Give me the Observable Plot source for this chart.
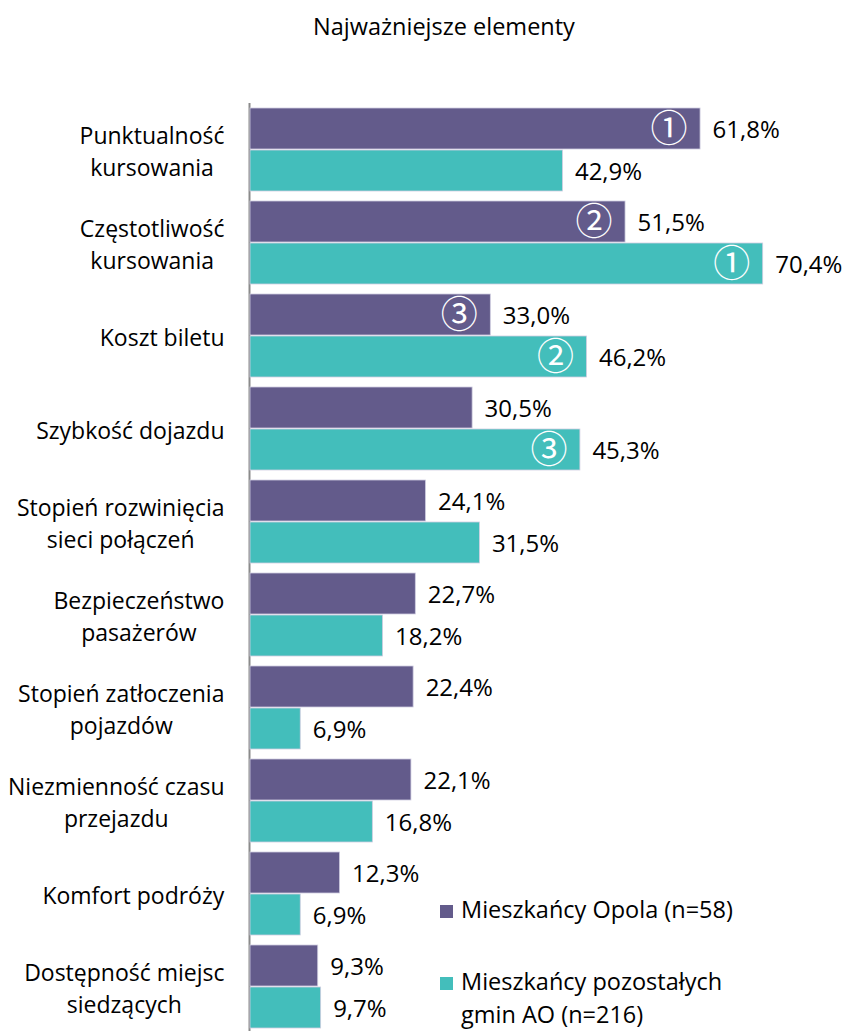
<!DOCTYPE html>
<html lang="pl">
<head>
<meta charset="utf-8">
<script src="https://cdn.jsdelivr.net/npm/d3@7"></script>
<script src="https://cdn.jsdelivr.net/npm/@observablehq/plot@0.6"></script>
<style>
  body { margin: 0; background: #fff; font-family: "Open Sans", sans-serif; color: #000; }
  #wrap { position: relative; width: 846px; height: 1031px; overflow: hidden; }
  #title { height: 55px; line-height: 52px; text-align: center; padding-left: 42px; font-size: 23.5px; }
  #legend { position: absolute; left: 440px; top: 893px; font-size: 23.5px; line-height: 33px; }
  .item { display: flex; align-items: flex-start; }
  .sw { width: 13px; height: 13px; margin-top: 12px; margin-right: 8px; flex: none; }
</style>
</head>
<body>
<div id="wrap">
  <div id="title">Najważniejsze elementy</div>
  <div id="chart"></div>
  <div id="legend"></div>
</div>
<script>
// Categories (top to bottom), with line breaks for the axis labels
const categories = [
  "Punktualność\nkursowania",
  "Częstotliwość\nkursowania",
  "Koszt biletu",
  "Szybkość dojazdu",
  "Stopień rozwinięcia\nsieci połączeń",
  "Bezpieczeństwo\npasażerów",
  "Stopień zatłoczenia\npojazdów",
  "Niezmienność czasu\nprzejazdu",
  "Komfort podróży",
  "Dostępność miejsc\nsiedzących"
];
const series = ["Mieszkańcy Opola (n=58)", "Mieszkańcy pozostałych\ngmin AO (n=216)"];
const colors = ["#635B8B", "#43BEBB"];

// Share of respondents (%)
const opole = [61.8, 51.5, 33.0, 30.5, 24.1, 22.7, 22.4, 22.1, 12.3, 9.3];
const others = [42.9, 70.4, 46.2, 45.3, 31.5, 18.2, 6.9, 16.8, 6.9, 9.7];

// Top-3 ranks within each group (0 = not ranked)
const rankOpole = [1, 2, 3, 0, 0, 0, 0, 0, 0, 0];
const rankOthers = [0, 1, 2, 3, 0, 0, 0, 0, 0, 0];

const circled = ["", "\u2460", "\u2461", "\u2462"];
const fmt = v => v.toFixed(1).replace(".", ",") + "%";

const rows = [];
categories.forEach((c, i) => {
  rows.push({category: c, series: series[0], value: opole[i], rank: rankOpole[i]});
  rows.push({category: c, series: series[1], value: others[i], rank: rankOthers[i]});
});

const chart = Plot.plot({
  width: 846,
  height: 978,
  marginLeft: 250,
  marginRight: 13.4,
  marginTop: 48,
  marginBottom: 0,
  style: {fontFamily: "'Open Sans', sans-serif", fontSize: "23px", color: "#000", background: "#fff"},
  x: {domain: [0, 80], axis: null},
  fy: {domain: categories, padding: 0, axis: null},
  y: {domain: series, paddingInner: 0.03, paddingOuter: 0.1, axis: null},
  color: {domain: series, range: colors},
  marks: [
    Plot.ruleX([0], {stroke: "#8a8a8a", strokeWidth: 2, dx: -1}),
    Plot.barX(rows, {
      fy: "category", y: "series", x: "value", fill: "series",
      stroke: "#cfcde0", strokeWidth: 0.8
    }),
    Plot.text(rows, {
      fy: "category", y: "series", x: "value", text: d => fmt(d.value),
      dx: 12, dy: 1, textAnchor: "start", fill: "#000", fontSize: 24
    }),
    Plot.text(rows.filter(d => d.rank > 0), {
      fy: "category", y: "series", x: "value", text: d => circled[d.rank],
      dx: -13, dy: 1, textAnchor: "end", fill: "#fff", fontSize: 37,
      fontFamily: "'Noto Sans CJK JP', sans-serif"
    }),
    Plot.text(categories, {
      fy: d => d, text: d => d, frameAnchor: "left", dx: -26,
      textAnchor: "end", lineHeight: 1.4, fill: "#000", fontSize: 23
    })
  ]
});
document.getElementById("chart").append(chart);

// Centre the lines of each category label while keeping the block right-aligned
const labelKeys = new Set(categories.map(c => c.replace("\n", "")));
chart.querySelectorAll("text").forEach(t => {
  if (!labelKeys.has(t.textContent)) return;
  const w = t.getBBox().width;
  t.setAttribute("text-anchor", "middle");
  t.setAttribute("transform", (t.getAttribute("transform") || "") + ` translate(${-w / 2},0)`);
});

// Legend
const legend = document.getElementById("legend");
series.forEach((s, i) => {
  const item = document.createElement("div");
  item.className = "item";
  if (i > 0) item.style.marginTop = "39px";
  const sw = document.createElement("div");
  sw.className = "sw";
  sw.style.background = colors[i];
  const label = document.createElement("div");
  label.innerHTML = s.split("\n").join("<br>");
  item.append(sw, label);
  legend.append(item);
});
</script>
</body>
</html>
